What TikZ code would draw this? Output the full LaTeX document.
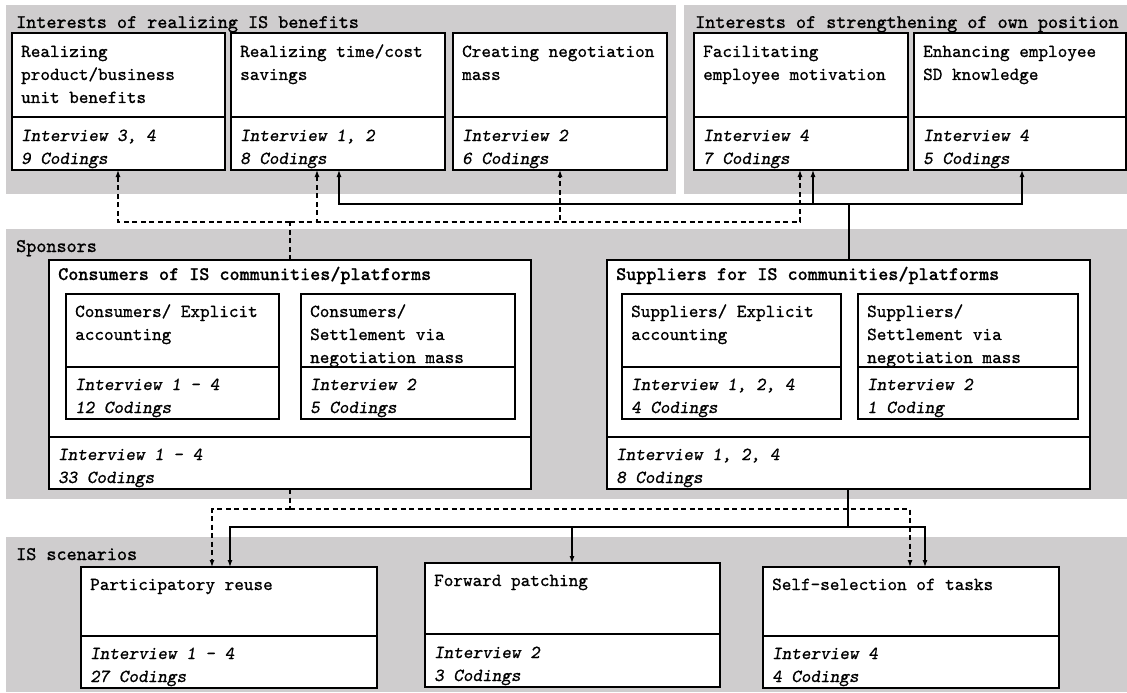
\documentclass[tikz,border=0pt]{standalone}
\usepackage{fontspec}
\usetikzlibrary{arrows.meta}
\definecolor{bggray}{RGB}{207,205,206}
\newfontfamily\ttreg{lmmono10-regular.otf}[RawFeature={embolden=0.9}]
\newfontfamily\ttsl{lmmonoslant10-regular.otf}[RawFeature={embolden=0.9}]
\newfontfamily\tthdr{lmmono10-regular.otf}[RawFeature={embolden=1.15}]
\newfontfamily\ttbold{lmmonolt10-bold.otf}[RawFeature={embolden=0.6}]
\newcommand\bodyfont{\fontsize{18.3}{23}\selectfont\ttreg}
\newcommand\slfont{\fontsize{18.3}{23}\selectfont\ttsl}
\newcommand\hdrfont{\fontsize{19.2}{23}\selectfont\tthdr}
\newcommand\boldfont{\fontsize{19.2}{23}\selectfont\ttbold}
\newcommand\mlines[1]{\parbox[t]{400pt}{#1}}
\tikzset{
  bg/.style={fill=bggray, draw=none},
  box/.style={draw=black, line width=1.4pt, fill=white, anchor=north west, inner sep=0pt, outer sep=0pt},
  txt/.style={anchor=base west, inner sep=0pt, font=\bodyfont},
  itx/.style={anchor=base west, inner sep=0pt, font=\slfont},
  hdr/.style={anchor=base west, inner sep=0pt, font=\hdrfont},
  ttl/.style={anchor=base west, inner sep=0pt, font=\boldfont},
  conn/.style={line width=1.2pt},
  dsh/.style={line width=1.2pt, dash pattern=on 5pt off 3.5pt},
  arr/.style={-{Latex[length=7pt,width=5pt]}}
}
\begin{document}
\begin{tikzpicture}[x=1pt,y=-1pt]
\useasboundingbox (0,0) rectangle (1127,693);
% backgrounds
\fill[bg] (6,5) rectangle (676,194);
\fill[bg] (684,5) rectangle (1127,194);
\fill[bg] (6,229) rectangle (1127,499);
\fill[bg] (6,537) rectangle (1127,692);
\node[hdr] (h1) at (16,28) {Interests of realizing IS benefits};
\node[hdr] (h2) at (695,28) {Interests of strengthening of own position};
\node[hdr] (h3) at (16,252) {Sponsors};
\node[hdr] (h4) at (16,560) {IS scenarios};

% top boxes
\node[box, minimum width=213pt, minimum height=84pt] (b1) at (12,33) {};
\node[box, minimum width=213pt, minimum height=53pt] (b1f) at (12,117) {};
\node[box, minimum width=214pt, minimum height=84pt] (b2) at (231,33) {};
\node[box, minimum width=214pt, minimum height=53pt] (b2f) at (231,117) {};
\node[box, minimum width=214pt, minimum height=84pt] (b3) at (453,33) {};
\node[box, minimum width=214pt, minimum height=53pt] (b3f) at (453,117) {};
\node[box, minimum width=214pt, minimum height=84pt] (b4) at (694,33) {};
\node[box, minimum width=214pt, minimum height=53pt] (b4f) at (694,117) {};
\node[box, minimum width=212pt, minimum height=84pt] (b5) at (914,33) {};
\node[box, minimum width=212pt, minimum height=53pt] (b5f) at (914,117) {};

\node[txt] (t1) at (21,57) {\mlines{Realizing\\product/business\\unit benefits}};
\node[itx] (t1f) at (21,141) {\mlines{Interview 3, 4\\9 Codings}};
\node[txt] (t2) at (240,57) {\mlines{Realizing time/cost\\savings}};
\node[itx] (t2f) at (240,141) {\mlines{Interview 1, 2\\8 Codings}};
\node[txt] (t3) at (462,57) {\mlines{Creating negotiation\\mass}};
\node[itx] (t3f) at (462,141) {\mlines{Interview 2\\6 Codings}};
\node[txt] (t4) at (703,57) {\mlines{Facilitating\\employee motivation}};
\node[itx] (t4f) at (703,141) {\mlines{Interview 4\\7 Codings}};
\node[txt] (t5) at (923,57) {\mlines{Enhancing employee\\SD knowledge}};
\node[itx] (t5f) at (923,141) {\mlines{Interview 4\\5 Codings}};

% sponsors
\node[box, minimum width=482pt, minimum height=177pt] (cons) at (49,260) {};
\node[box, minimum width=482pt, minimum height=52pt] (consf) at (49,437) {};
\node[ttl] (ct) at (58,280) {Consumers of IS communities/platforms};
\node[itx] (ctf) at (58,460) {\mlines{Interview 1 - 4\\33 Codings}};
\node[box, minimum width=213pt, minimum height=73pt] (ci1) at (66,294) {};
\node[box, minimum width=213pt, minimum height=52pt] (ci1f) at (66,367) {};
\node[box, minimum width=214pt, minimum height=73pt] (ci2) at (301,294) {};
\node[box, minimum width=214pt, minimum height=52pt] (ci2f) at (301,367) {};
\node[txt] (tc1) at (75,317) {\mlines{Consumers/ Explicit\\accounting}};
\node[itx] (tc1f) at (75,390) {\mlines{Interview 1 - 4\\12 Codings}};
\node[txt] (tc2) at (310,317) {\mlines{Consumers/\\Settlement via\\negotiation mass}};
\node[itx] (tc2f) at (310,390) {\mlines{Interview 2\\5 Codings}};

\node[box, minimum width=483pt, minimum height=177pt] (sup) at (607,260) {};
\node[box, minimum width=483pt, minimum height=52pt] (supf) at (607,437) {};
\node[ttl] (st) at (616,280) {Suppliers for IS communities/platforms};
\node[itx] (stf) at (616,460) {\mlines{Interview 1, 2, 4\\8 Codings}};
\node[box, minimum width=219pt, minimum height=73pt] (si1) at (622,294) {};
\node[box, minimum width=219pt, minimum height=52pt] (si1f) at (622,367) {};
\node[box, minimum width=220pt, minimum height=73pt] (si2) at (858,294) {};
\node[box, minimum width=220pt, minimum height=52pt] (si2f) at (858,367) {};
\node[txt] (ts1) at (631,317) {\mlines{Suppliers/ Explicit\\accounting}};
\node[itx] (ts1f) at (631,390) {\mlines{Interview 1, 2, 4\\4 Codings}};
\node[txt] (ts2) at (867,317) {\mlines{Suppliers/\\Settlement via\\negotiation mass}};
\node[itx] (ts2f) at (867,390) {\mlines{Interview 2\\1 Coding}};

% scenarios
\node[box, minimum width=296pt, minimum height=69pt] (sP) at (81,567) {};
\node[box, minimum width=296pt, minimum height=52pt] (sPf) at (81,636) {};
\node[box, minimum width=295pt, minimum height=71pt] (sF) at (425,563) {};
\node[box, minimum width=295pt, minimum height=53pt] (sFf) at (425,634) {};
\node[box, minimum width=296pt, minimum height=69pt] (sS) at (763,567) {};
\node[box, minimum width=296pt, minimum height=52pt] (sSf) at (763,636) {};
\node[txt] (tP) at (90,590) {Participatory reuse};
\node[itx] (tPf) at (90,659) {\mlines{Interview 1 - 4\\27 Codings}};
\node[txt] (tF) at (434,586) {Forward patching};
\node[itx] (tFf) at (434,658) {\mlines{Interview 2\\3 Codings}};
\node[txt] (tS) at (772,590) {Self-selection of tasks};
\node[itx] (tSf) at (772,659) {\mlines{Interview 4\\4 Codings}};

% connectors top
\coordinate (dT) at (290,222);
\draw[dsh] (cons.north -| dT) -- (dT);
\draw[dsh,arr] (dT) -| (b1f.south -| 118,0);
\draw[dsh,arr] (dT) -| (b2f.south -| 317,0);
\draw[dsh,arr] (dT) -| (b3f.south -| 560,0);
\draw[dsh,arr] (dT) -| (b4f.south -| 800,0);
\coordinate (sT) at (849,204);
\draw[conn] (sup.north -| sT) -- (sT);
\draw[conn,arr] (sT) -| (b2f.south -| 339,0);
\draw[conn,arr] (sT) -| (b4f.south -| 813,0);
\draw[conn,arr] (sT) -| (b5f.south -| 1022,0);
% connectors bottom
\coordinate (dB) at (290,509);
\draw[dsh] (consf.south -| dB) -- (dB);
\draw[dsh,arr] (dB) -| (sP.north -| 212,0);
\draw[dsh,arr] (dB) -| (sS.north -| 910,0);
\coordinate (sB) at (848,527);
\draw[conn] (supf.south -| sB) -- (sB);
\draw[conn,arr] (sB) -| (sP.north -| 230,0);
\draw[conn,arr] (sB) -| (sF.north -| 572,0);
\draw[conn,arr] (sB) -| (sS.north -| 925,0);
\end{tikzpicture}
\end{document}
